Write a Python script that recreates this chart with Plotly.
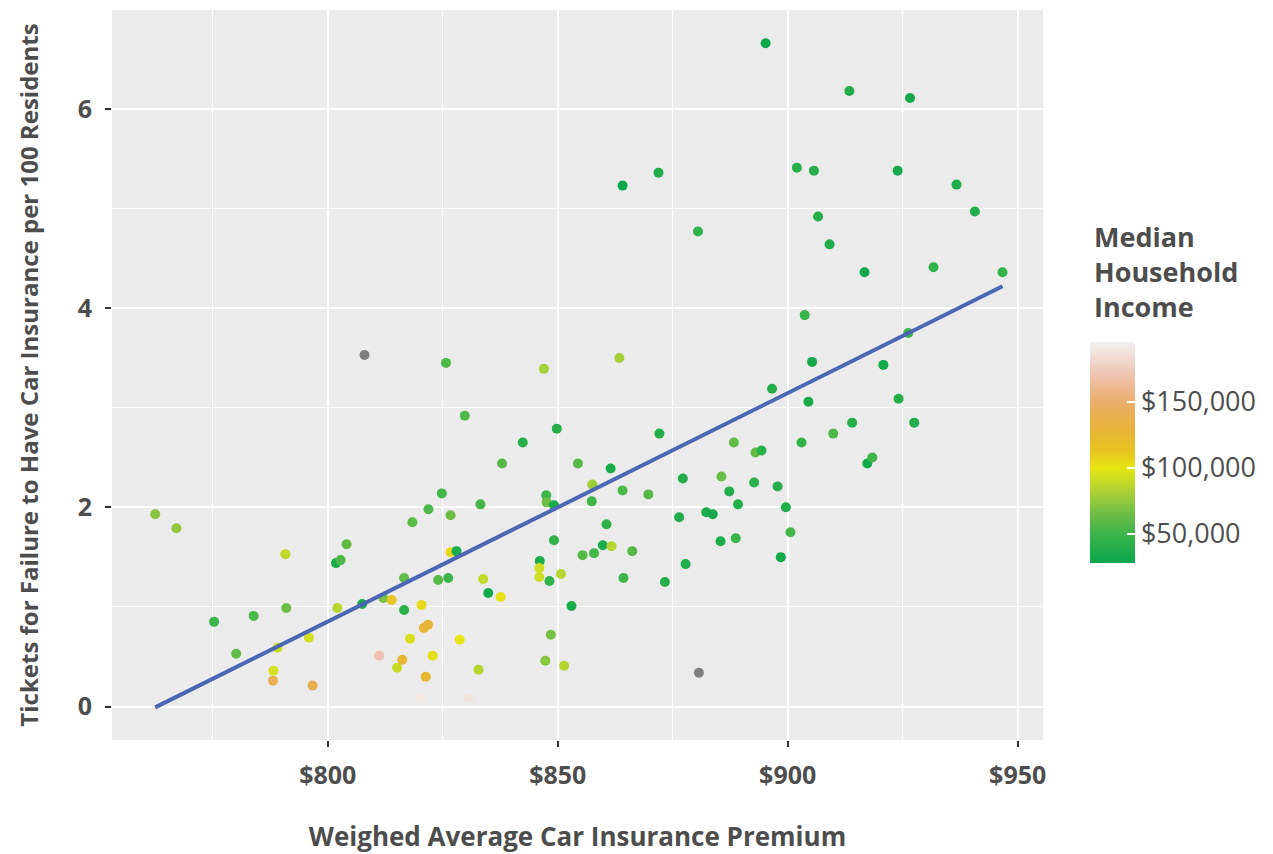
import numpy as np
import plotly.graph_objects as go

# Weighted average car insurance premium ($)
premium = [762.5, 767.1, 775.3, 780.1, 783.9, 788.1, 788.2, 789.1, 790.8, 791.0,
           795.9, 796.7, 801.8, 802.8, 802.1, 804.1, 808.0, 807.5, 811.2, 812.1,
           813.9, 815.1, 816.2, 816.6, 816.6, 817.9, 818.4, 820.2, 820.4, 820.9,
           821.8, 821.3, 821.9, 822.8, 824.0, 824.8, 825.7, 826.2, 826.7, 826.7,
           828.0, 828.7, 829.8, 830.6, 832.8, 833.2, 833.8, 834.9, 837.6, 837.9,
           842.4, 846.1, 846.0, 846.0, 847.0, 847.3, 847.5, 847.6, 848.2, 848.5,
           849.2, 849.2, 849.8, 850.7, 851.4, 853.0, 854.4, 855.4, 857.4, 857.5,
           857.9, 859.8, 860.6, 861.5, 861.7, 863.4, 864.1, 864.1, 864.3, 866.2,
           869.7, 871.9, 872.1, 873.3, 876.4, 877.2, 877.8, 880.5, 880.7, 882.3,
           883.7, 885.4, 885.6, 887.3, 888.3, 888.7, 889.2, 892.7, 893.0, 894.3,
           895.2, 896.6, 897.8, 898.5, 899.6, 900.6, 902.0, 903.0, 903.7, 904.5,
           905.3, 905.7, 906.6, 909.1, 909.9, 913.4, 914.0, 916.7, 917.3, 918.4,
           920.8, 923.9, 924.1, 926.2, 926.6, 927.5, 931.7, 936.7, 940.7, 946.7]

# Tickets for failure to have car insurance per 100 residents
tickets = [1.93, 1.79, 0.85, 0.53, 0.91, 0.26, 0.36, 0.59, 1.53, 0.99,
           0.69, 0.21, 1.44, 1.47, 0.99, 1.63, 3.53, 1.03, 0.51, 1.09,
           1.07, 0.39, 0.47, 1.29, 0.97, 0.68, 1.85, 0.08, 1.02, 0.79,
           0.82, 0.30, 1.98, 0.51, 1.27, 2.14, 3.45, 1.29, 1.92, 1.55,
           1.56, 0.67, 2.92, 0.08, 0.37, 2.03, 1.28, 1.14, 1.10, 2.44,
           2.65, 1.46, 1.39, 1.30, 3.39, 0.46, 2.12, 2.05, 1.26, 0.72,
           2.02, 1.67, 2.79, 1.33, 0.41, 1.01, 2.44, 1.52, 2.06, 2.23,
           1.54, 1.62, 1.83, 2.39, 1.61, 3.50, 5.23, 2.17, 1.29, 1.56,
           2.13, 5.36, 2.74, 1.25, 1.90, 2.29, 1.43, 4.77, 0.34, 1.95,
           1.93, 1.66, 2.31, 2.16, 2.65, 1.69, 2.03, 2.25, 2.55, 2.57,
           6.66, 3.19, 2.21, 1.50, 2.00, 1.75, 5.41, 2.65, 3.93, 3.06,
           3.46, 5.38, 4.92, 4.64, 2.74, 6.18, 2.85, 4.36, 2.44, 2.50,
           3.43, 5.38, 3.09, 3.75, 6.11, 2.85, 4.41, 5.24, 4.97, 4.36]

# Median household income ($); None = missing
income = [72000, 75000, 50000, 62000, 55000, 140000, 95000, 92000, 88000, 65000,
          93000, 140000, 35000, 55000, 85000, 62000, None, 35000, 170000, 68000,
          112000, 90000, 125000, 62000, 42000, 95000, 60000, 190000, 105000, 125000,
          128000, 125000, 55000, 103000, 58000, 52000, 55000, 50000, 65000, 105000,
          35000, 100000, 55000, 188000, 85000, 52000, 88000, 32000, 102000, 58000,
          40000, 35000, 92000, 92000, 80000, 72000, 50000, 65000, 45000, 68000,
          35000, 45000, 40000, 85000, 85000, 35000, 58000, 58000, 50000, 78000,
          52000, 35000, 45000, 35000, 85000, 80000, 30000, 55000, 50000, 58000,
          58000, 38000, 40000, 40000, 38000, 38000, 37000, 45000, None, 35000,
          33000, 35000, 65000, 38000, 62000, 48000, 40000, 42000, 62000, 42000,
          30000, 40000, 40000, 32000, 38000, 52000, 40000, 45000, 48000, 33000,
          33000, 40000, 40000, 38000, 55000, 38000, 40000, 32000, 32000, 52000,
          33000, 33000, 40000, 48000, 33000, 38000, 45000, 38000, 38000, 45000]

x_ticks = [800, 850, 900, 950]
x_ticklabels = ["$800", "$850", "$900", "$950"]
y_ticks = [0, 2, 4, 6]
cb_ticks = [50000, 100000, 150000]
cb_ticklabels = ["$50,000", "$100,000", "$150,000"]

TXT = "#4d4d4d"
FONT = "Open Sans"

x = np.array(premium, dtype=float)
y = np.array(tickets, dtype=float)
inc = np.array([np.nan if v is None else v for v in income], dtype=float)
has = ~np.isnan(inc)

colorscale = [
    [0.000, "#0aa64b"],
    [0.132, "#3db54a"],
    [0.222, "#6cbd45"],
    [0.311, "#a5cf38"],
    [0.431, "#e8e614"],
    [0.503, "#e6c51f"],
    [0.611, "#e8b23a"],
    [0.731, "#ebae6c"],
    [0.850, "#eec3b0"],
    [1.000, "#f2f0f0"],
]

fig = go.Figure()

fig.add_trace(go.Scatter(
    x=x[~has], y=y[~has], mode="markers",
    marker=dict(size=10, color="#7f7f7f", line=dict(width=0)),
    showlegend=False, hoverinfo="skip"))

fig.add_trace(go.Scatter(
    x=x[has], y=y[has], mode="markers",
    marker=dict(size=10, color=inc[has], colorscale=colorscale,
                cmin=28000, cmax=195000, line=dict(width=0),
                colorbar=dict(
                    tickvals=cb_ticks, ticktext=cb_ticklabels,
                    tickfont=dict(family=FONT, size=27, color=TXT),
                    ticks="inside", ticklen=8, tickcolor="white", tickwidth=1.5,
                    thickness=45, thicknessmode="pixels",
                    len=221, lenmode="pixels",
                    x=1.0505, xref="paper", xanchor="left", xpad=0,
                    y=0.2425, yref="paper", yanchor="bottom", ypad=0,
                    outlinewidth=0,
                )),
    showlegend=False))

# linear fit (geom_smooth lm)
slope, intercept = np.polyfit(x, y, 1)
fx = np.array([x.min(), x.max()])
fig.add_trace(go.Scatter(x=fx, y=slope * fx + intercept, mode="lines",
                         line=dict(color="#4a66b5", width=4),
                         showlegend=False, hoverinfo="skip"))

fig.add_annotation(
    text="Median<br>Household<br>Income", showarrow=False,
    xref="paper", yref="paper", x=1.0526, y=0.7178,
    xanchor="left", yanchor="top", align="left",
    font=dict(family=FONT, size=27, color=TXT, weight=700))

fig.update_layout(
    width=1273, height=854,
    margin=dict(l=104, r=238, t=2, b=122),
    paper_bgcolor="white", plot_bgcolor="#ebebeb",
    font=dict(family=FONT, color=TXT),
)

fig.update_xaxes(
    range=[753.1, 955.5], tickvals=x_ticks, ticktext=x_ticklabels,
    showgrid=True, gridcolor="white", gridwidth=2,
    minor=dict(dtick=25, tick0=775, showgrid=True, gridcolor="white", gridwidth=1, ticks=""),
    ticks="outside", ticklen=6, tickwidth=2, tickcolor="#333333",
    ticklabelstandoff=7,
    tickfont=dict(family=FONT, size=25, color=TXT, weight=700),
    zeroline=False, showline=False,
    title=dict(text="Weighed Average Car Insurance Premium", standoff=37,
               font=dict(family=FONT, size=26, color=TXT, weight=700)),
)
fig.update_yaxes(
    range=[-0.336, 6.993], tickvals=y_ticks,
    showgrid=True, gridcolor="white", gridwidth=2,
    minor=dict(dtick=1, tick0=1, showgrid=True, gridcolor="white", gridwidth=1, ticks=""),
    ticks="outside", ticklen=6, tickwidth=2, tickcolor="#333333",
    ticklabelstandoff=8,
    tickfont=dict(family=FONT, size=25, color=TXT, weight=700),
    zeroline=False, showline=False,
    title=dict(text="Tickets for Failure to Have Car Insurance per 100 Residents", standoff=32,
               font=dict(family=FONT, size=24, color=TXT, weight=700)),
)

fig.write_html("out.html")
